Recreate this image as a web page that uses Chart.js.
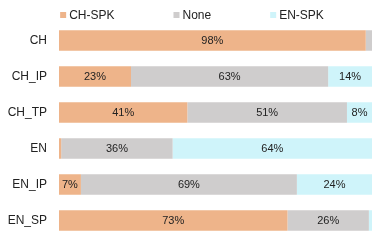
<!DOCTYPE html>
<html>
<head>
<meta charset="utf-8">
<script src="https://cdn.jsdelivr.net/npm/chart.js@4"></script>
<style>
  html, body { margin: 0; padding: 0; background: #fff; overflow: hidden; }
  canvas { display: block; }
</style>
</head>
<body>
<canvas id="speakerChart" width="388" height="243"></canvas>
<script>
const categories = ['CH', 'CH_IP', 'CH_TP', 'EN', 'EN_IP', 'EN_SP'];
const seriesNames = ['CH-SPK', 'None', 'EN-SPK'];
const chSpk = [98, 23, 41, 0.7, 7, 73];
const none = [2, 63, 51, 35.6, 69, 26];
const enSpk = [0, 14, 8, 63.7, 24, 1];
const colors = ['#eeb48a', '#cfcdcd', '#cff4fa'];

const FONT = '"Liberation Sans", Arial, sans-serif';

// percentage text inside each segment (small ones skipped)
const barLabels = {
    id: 'barLabels',
    afterDatasetsDraw(chart) {
        const ctx = chart.ctx;
        ctx.save();
        ctx.font = '11px ' + FONT;
        ctx.fillStyle = '#222';
        ctx.textAlign = 'center';
        ctx.textBaseline = 'middle';
        chart.data.datasets.forEach((ds, i) => {
            chart.getDatasetMeta(i).data.forEach((bar, j) => {
                const v = ds.data[j];
                if (v < 5) return;
                const cx = (bar.x + bar.base) / 2;
                ctx.fillText(Math.round(v) + '%', cx, bar.y + 0.5);
            });
        });
        ctx.restore();
    }
};

// one-row legend with wide gaps, centred above the plot
const wideLegend = {
    id: 'wideLegend',
    afterDraw(chart) {
        const ctx = chart.ctx;
        const box = 6, gap = 3, spacing = 59, y = 15;
        ctx.save();
        ctx.font = '12px ' + FONT;
        const widths = seriesNames.map(n => box + gap + ctx.measureText(n).width);
        const total = widths.reduce((a, b) => a + b, 0) + spacing * (widths.length - 1);
        let x = chart.width / 2 - total / 2 - 2;
        ctx.textBaseline = 'middle';
        ctx.textAlign = 'left';
        seriesNames.forEach((n, i) => {
            ctx.fillStyle = colors[i];
            ctx.fillRect(x, y - box / 2, box, box);
            ctx.fillStyle = '#222';
            ctx.fillText(n, x + box + gap, y + 0.5);
            x += widths[i] + spacing;
        });
        ctx.restore();
    }
};

const ctx = document.getElementById('speakerChart').getContext('2d');

new Chart(ctx, {
    type: 'bar',
    data: {
        labels: categories,
        datasets: [
            { label: seriesNames[0], data: chSpk, backgroundColor: colors[0] },
            { label: seriesNames[1], data: none, backgroundColor: colors[1] },
            { label: seriesNames[2], data: enSpk, backgroundColor: colors[2] }
        ]
    },
    options: {
        indexAxis: 'y',
        responsive: false,
        animation: false,
        datasets: {
            bar: { categoryPercentage: 1, barPercentage: 0.57, borderWidth: 0 }
        },
        layout: { padding: { left: 8, right: 16, top: 22.5, bottom: 4.5 } },
        plugins: {
            legend: { display: false },
            tooltip: { enabled: false }
        },
        scales: {
            x: {
                stacked: true,
                min: 0,
                max: 100,
                display: false
            },
            y: {
                stacked: true,
                afterFit(scale) {
                    scale.width = 51;
                    // label padding would otherwise push the plot up from the bottom
                    scale.paddingTop = 0;
                    scale.paddingBottom = 0;
                },
                grid: { display: false, drawTicks: false },
                border: { display: false },
                ticks: {
                    padding: 12,
                    color: '#222',
                    font: { family: FONT, size: 12 }
                }
            }
        }
    },
    plugins: [barLabels, wideLegend]
});
</script>
</body>
</html>
